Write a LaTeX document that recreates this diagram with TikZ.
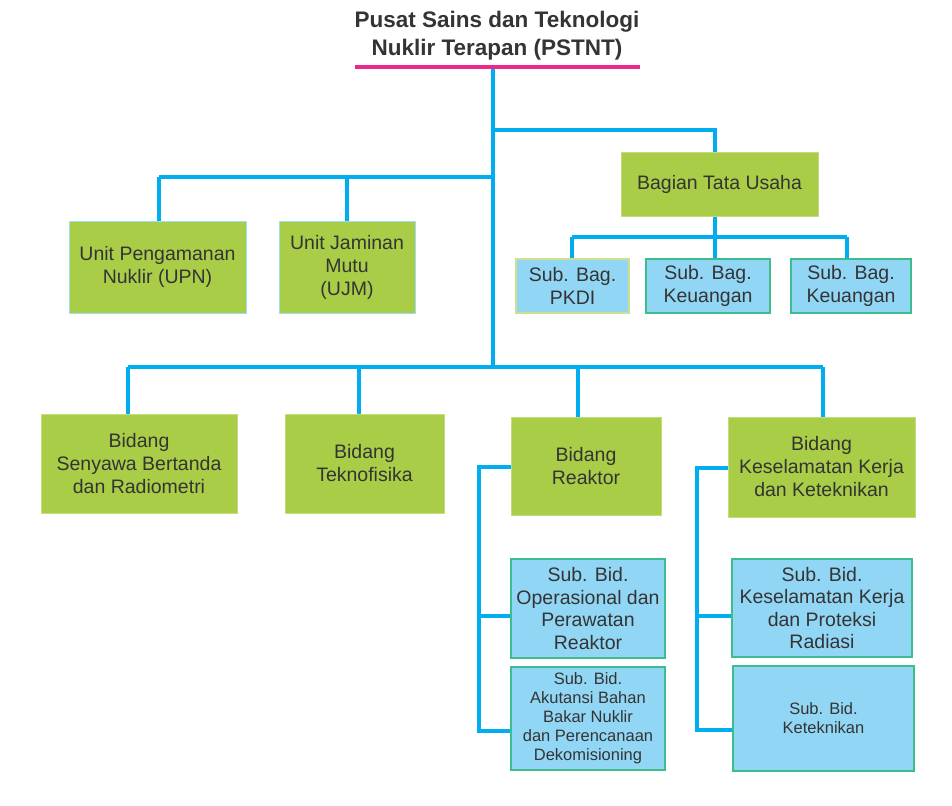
\documentclass[tikz,border=0pt]{standalone}
\usepackage{fontspec}
\setmainfont{Liberation Sans}
\definecolor{linkblue}{RGB}{0,174,239}
\definecolor{leafgreen}{RGB}{169,205,70}
\definecolor{skyfill}{RGB}{145,215,245}
\definecolor{tealedge}{RGB}{60,190,140}
\definecolor{inkgray}{RGB}{52,52,52}
\definecolor{titlepink}{RGB}{236,40,140}
\tikzset{
    link/.style={draw=linkblue, line width=4pt},
    unitbox/.style={draw=leafgreen!70!white, fill=leafgreen, line width=1pt, align=center,
        inner sep=0pt, text=inkgray, font=\fontsize{19.5}{23}\selectfont},
    subbox/.style={draw=tealedge, fill=skyfill, line width=1.5pt, align=center,
        inner sep=0pt, text=inkgray, font=\fontsize{19.5}{22.5}\selectfont},
    smallsub/.style={subbox, font=\fontsize{16.5}{19}\selectfont}
}
\begin{document}
\begin{tikzpicture}[x=1pt, y=-1pt]
    \useasboundingbox (0,0) rectangle (952,805);
    % title
    \node[align=center, text=inkgray, font=\bfseries\fontsize{22.5}{28}\selectfont] (pstnt) at (497,36)
        {Pusat Sains dan Teknologi\\Nuklir Terapan (PSTNT)};
    \coordinate (ulL) at (355,67);
    \coordinate (ulR) at (640,67);
    \coordinate (stem) at (493,67);
    % junctions on the main stem
    \coordinate (jA) at (493,130);  \coordinate (dA) at (715,130);
    \coordinate (jB) at (493,177);  \coordinate (dB1) at (159,177);  \coordinate (dB2) at (347,177);
    \coordinate (jC) at (493,367);  \coordinate (dC1) at (128,367);  \coordinate (dC2) at (359,367);
    \coordinate (dC3) at (578,367); \coordinate (dC4) at (823,367);
    \coordinate (sA) at (715,237);  \coordinate (sA1) at (572,237);  \coordinate (sA3) at (847,237);
    \coordinate (rA) at (479,467);  \coordinate (rB) at (479,616);   \coordinate (rC) at (479,731);
    \coordinate (kA) at (697,468);  \coordinate (kB) at (697,616);   \coordinate (kC) at (697,730);

    % units and the administration
    \node[unitbox, draw=linkblue!40, minimum width=177, minimum height=92] (upn) at (157.5,267)
        {Unit Pengamanan\\Nuklir (UPN)};
    \node[unitbox, draw=linkblue!40, minimum width=136, minimum height=92] (ujm) at (347,267)
        {Unit Jaminan\\Mutu\\(UJM)};
    \node[unitbox, minimum width=197, minimum height=63] (btu) at (719.5,184.5) {Bagian Tata Usaha};
    \node[subbox, draw=leafgreen!60!white, minimum width=113, minimum height=54] (pkdi) at (572.5,286)
        {Sub. Bag.\\PKDI};
    \node[subbox, minimum width=124, minimum height=54] (keu1) at (708,286) {Sub. Bag.\\Keuangan};
    \node[subbox, minimum width=120, minimum height=54] (keu2) at (851,286) {Sub. Bag.\\Keuangan};

    % fields
    \node[unitbox, minimum width=196, minimum height=99] (bsbr) at (139,463.5)
        {Bidang\\Senyawa Bertanda\\dan Radiometri};
    \node[unitbox, minimum width=159, minimum height=99] (btek) at (364.5,463.5) {Bidang\\Teknofisika};
    \node[unitbox, minimum width=150, minimum height=98] (brea) at (586,466) {Bidang\\Reaktor};
    \node[unitbox, minimum width=187, minimum height=100] (bkkk) at (821.5,467)
        {Bidang\\Keselamatan Kerja\\dan Keteknikan};

    % sub-fields
    \node[subbox, minimum width=154, minimum height=99] (sbopr) at (588,608.5)
        {Sub. Bid.\\Operasional dan\\Perawatan\\Reaktor};
    \node[smallsub, minimum width=154, minimum height=103] (sbakb) at (588,718.5)
        {Sub. Bid.\\Akutansi Bahan\\Bakar Nuklir\\dan Perencanaan\\Dekomisioning};
    \node[subbox, minimum width=180, minimum height=98] (sbkpr) at (822,608)
        {Sub. Bid.\\Keselamatan Kerja\\dan Proteksi\\Radiasi};
    \node[smallsub, minimum width=181, minimum height=105] (sbtek) at (823.5,718.5)
        {Sub. Bid.\\Keteknikan};

    % connectors
    \draw[link] (stem) -- (jC);
    \draw[link] (jA) -- (dA) -- (dA |- btu.north);
    \draw[link] (jB) -- (dB1);
    \foreach \d/\n in {dB1/upn, dB2/ujm}
        \draw[link] (\d) -- (\d |- \n.north);
    \draw[link] (dC1) -- (dC4);
    \foreach \d/\n in {dC1/bsbr, dC2/btek, dC3/brea, dC4/bkkk}
        \draw[link] (\d) -- (\d |- \n.north);
    \draw[link] (sA |- btu.south) -- (sA);
    \draw[link] (sA1) -- (sA3);
    \foreach \d/\n in {sA1/pkdi, sA/keu1, sA3/keu2}
        \draw[link] (\d) -- (\d |- \n.north);
    \draw[link] (rA -| brea.west) -- (rA) -- (rC) -- (rC -| sbakb.west);
    \draw[link] (rB) -- (rB -| sbopr.west);
    \draw[link] (kA -| bkkk.west) -- (kA) -- (kC) -- (kC -| sbtek.west);
    \draw[link] (kB) -- (kB -| sbkpr.west);
    \draw[titlepink, line width=4pt] (ulL) -- (ulR);
\end{tikzpicture}
\end{document}
